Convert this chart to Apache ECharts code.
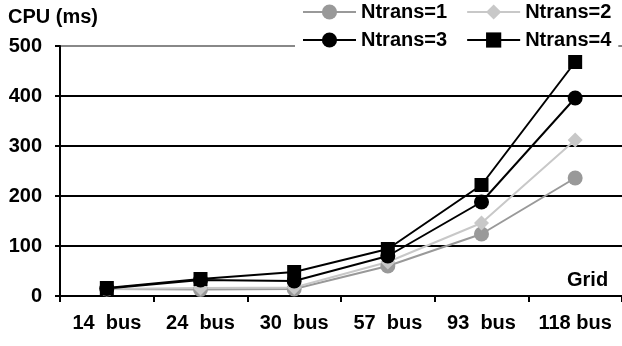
<!DOCTYPE html>
<html><head><meta charset="utf-8">
<script src="https://cdn.jsdelivr.net/npm/echarts@6/dist/echarts.min.js"></script>
<style>html,body{margin:0;padding:0;background:#fff}#c{width:622px;height:346px}</style>
</head><body><div id="c"></div>
<script>
var categories = ['14  bus', '24  bus', '30  bus', '57  bus', '93  bus', '118 bus'];
var n1 = [14, 13, 14, 60, 124, 236];
var n2 = [14, 16, 17, 68, 146, 312];
var n3 = [15, 32, 30, 80, 188, 396];
var n4 = [16, 34, 48, 94, 222, 468];
var yTicks = [0, 100, 200, 300, 400, 500];

var font = 'Liberation Sans, Arial, sans-serif';
var chart = echarts.init(document.getElementById('c'), null, {renderer: 'canvas'});
function ser(name, data, color, symbol, size) {
  return {
    name: name, type: 'line', data: data, symbol: symbol, symbolSize: size,
    showAllSymbol: true,
    lineStyle: {color: color, width: 2}, itemStyle: {color: color},
    emphasis: {disabled: true}, animation: false
  };
}
var legText = {fontFamily: font, fontWeight: 'bold', fontSize: 20, color: '#000'};
chart.setOption({
  animation: false,
  title: {text: 'CPU (ms)', left: 3, top: 3, padding: [4, 5], textStyle: {fontFamily: font, fontWeight: 'bold', fontSize: 20, color: '#000'}},
  grid: {left: 60, right: -2, top: 46, bottom: 50, containLabel: false},
  legend: [
    {data: ['Ntrans=1', 'Ntrans=2'], left: 295, top: 0, itemWidth: 53, itemHeight: 19, itemGap: 19,
     backgroundColor: '#fff', padding: [2, 7, 2, 7], textStyle: legText},
    {data: ['Ntrans=3', 'Ntrans=4'], left: 295, top: 24, itemWidth: 53, itemHeight: 19, itemGap: 19,
     backgroundColor: '#fff', padding: [6, 7, 4, 7], textStyle: legText}
  ],
  xAxis: {
    type: 'category', data: categories, boundaryGap: true,
    axisLine: {lineStyle: {color: '#000', width: 2}},
    axisTick: {show: true, length: 6, lineStyle: {color: '#000', width: 2}},
    axisLabel: {fontFamily: font, fontWeight: 'bold', fontSize: 20, color: '#000', margin: 17, interval: 0}
  },
  yAxis: {
    type: 'value', min: yTicks[0], max: yTicks[yTicks.length - 1], interval: 100,
    axisLine: {show: true, lineStyle: {color: '#000', width: 2}},
    axisTick: {show: true, length: 5, lineStyle: {color: '#000', width: 2}},
    axisLabel: {fontFamily: font, fontWeight: 'bold', fontSize: 20, color: '#000', margin: 18},
    splitLine: {show: true, lineStyle: {color: ['#000', '#000', '#000', '#000', '#000', '#888'], width: 2}}
  },
  graphic: [{type: 'text', left: 567, top: 270, style: {text: 'Grid', fontFamily: font, fontWeight: 'bold', fontSize: 20, fill: '#000'}}],
  series: [
    ser('Ntrans=1', n1, '#999999', 'circle', 15),
    ser('Ntrans=2', n2, '#c8c8c8', 'diamond', 15),
    ser('Ntrans=3', n3, '#000000', 'circle', 15),
    ser('Ntrans=4', n4, '#000000', 'rect', 14)
  ]
});
</script></body></html>
